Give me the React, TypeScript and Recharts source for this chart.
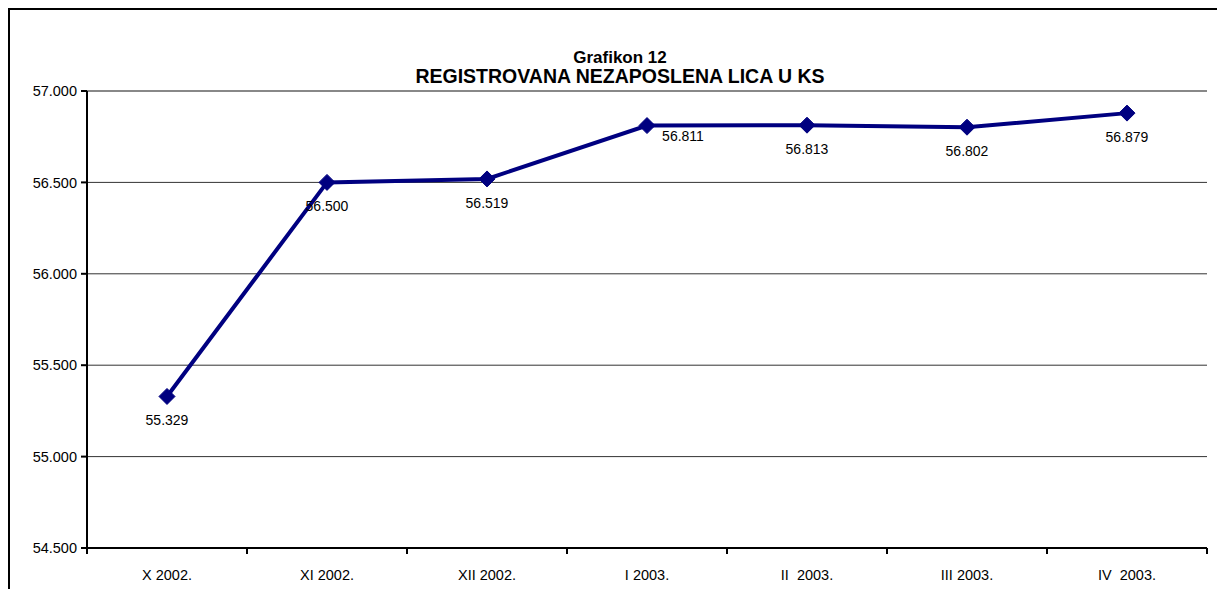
import { LineChart, Line, XAxis, YAxis, CartesianGrid, LabelList, ReferenceLine } from "recharts";

const months = ["X 2002.", "XI 2002.", "XII 2002.", "I 2003.", "II  2003.", "III 2003.", "IV  2003."];
const unemployed = [55329, 56500, 56519, 56811, 56813, 56802, 56879];
const yTicks = [54500, 55000, 55500, 56000, 56500, 57000];

// Excel puts the 56.811 label a bit off to the side
const labelShift = [
  [0, 0], [0, 0], [0, 0], [36, -14], [0, 0], [0, 0], [0, 0],
];

const data = months.map((m, i) => ({ month: m, value: unemployed[i] }));

const FONT = "'Liberation Sans', Arial, sans-serif";
const NAVY = "#000080";
const HALF_BAND = 80;

const fmt = (v: number) => String(v).replace(/\B(?=(\d{3})+(?!\d))/g, ".");

const Diamond = (props: any) => {
  const { cx, cy } = props;
  if (cx == null || cy == null) return null;
  const r = 8;
  return (
    <polygon
      points={`${cx},${cy - r} ${cx + r},${cy} ${cx},${cy + r} ${cx - r},${cy}`}
      fill={NAVY}
      stroke={NAVY}
    />
  );
};

const MonthTick = (props: any) => {
  const { x, y, payload, index } = props;
  const axisY = y - 6;
  return (
    <g>
      <line x1={x - HALF_BAND} x2={x - HALF_BAND} y1={axisY} y2={axisY + 6} stroke="#000" strokeWidth={2} />
      {index === months.length - 1 && (
        <line x1={x + HALF_BAND} x2={x + HALF_BAND} y1={axisY} y2={axisY + 6} stroke="#000" strokeWidth={2} />
      )}
      <text x={x} y={y + 26} textAnchor="middle" fontSize={14.5} fontFamily={FONT} fill="#000" style={{ whiteSpace: "pre" }}>
        {payload.value}
      </text>
    </g>
  );
};

const ValueLabel = (props: any) => {
  const { x, y, value, index } = props;
  const [dx, dy] = labelShift[index] || [0, 0];
  return (
    <text x={x + dx} y={y + 29 + dy} textAnchor="middle" fontSize={14} fontFamily={FONT} fill="#000">
      {fmt(value)}
    </text>
  );
};

export default function App() {
  return (
    <div
      style={{
        position: "relative",
        width: 1217,
        height: 581,
        boxSizing: "border-box",
        borderTop: "2px solid #000",
        borderLeft: "2px solid #000",
        background: "#fff",
        fontFamily: FONT,
      }}
    >
      <div
        style={{
          position: "absolute",
          left: 0,
          top: 40,
          width: 1220,
          textAlign: "center",
          fontWeight: "bold",
          color: "#000",
        }}
      >
        <div style={{ fontSize: 17, lineHeight: "16px" }}>Grafikon 12</div>
        <div style={{ fontSize: 19.5, lineHeight: "20px" }}>REGISTROVANA NEZAPOSLENA LICA U KS</div>
      </div>
      <LineChart width={1215} height={579} data={data} margin={{ top: 81, right: 18, bottom: 11, left: 0 }}>
        <CartesianGrid vertical={false} stroke="#333" strokeWidth={1} />
        <ReferenceLine y={57000} stroke="#888" strokeWidth={2} />
        <XAxis
          dataKey="month"
          height={30}
          padding={{ left: HALF_BAND, right: HALF_BAND }}
          axisLine={{ stroke: "#000", strokeWidth: 2 }}
          tickLine={false}
          tickSize={6}
          tickMargin={0}
          interval={0}
          tick={<MonthTick />}
        />
        <YAxis
          width={77}
          domain={[54500, 57000]}
          ticks={yTicks}
          allowDataOverflow
          tickFormatter={fmt}
          axisLine={{ stroke: "#000", strokeWidth: 2 }}
          tickLine={{ stroke: "#000", strokeWidth: 2 }}
          tickSize={6}
          tickMargin={4}
          tick={{ fontSize: 14.5, fontFamily: FONT, fill: "#000" }}
        />
        <YAxis
          yAxisId="frame"
          orientation="right"
          width={0}
          domain={[54500, 57000]}
          tick={false}
          tickLine={false}
          axisLine={{ stroke: "#888", strokeWidth: 2 }}
        />
        <Line
          dataKey="value"
          stroke={NAVY}
          strokeWidth={4}
          dot={<Diamond />}
          activeDot={false}
          isAnimationActive={false}
        >
          <LabelList dataKey="value" content={<ValueLabel />} />
        </Line>
      </LineChart>
    </div>
  );
}
